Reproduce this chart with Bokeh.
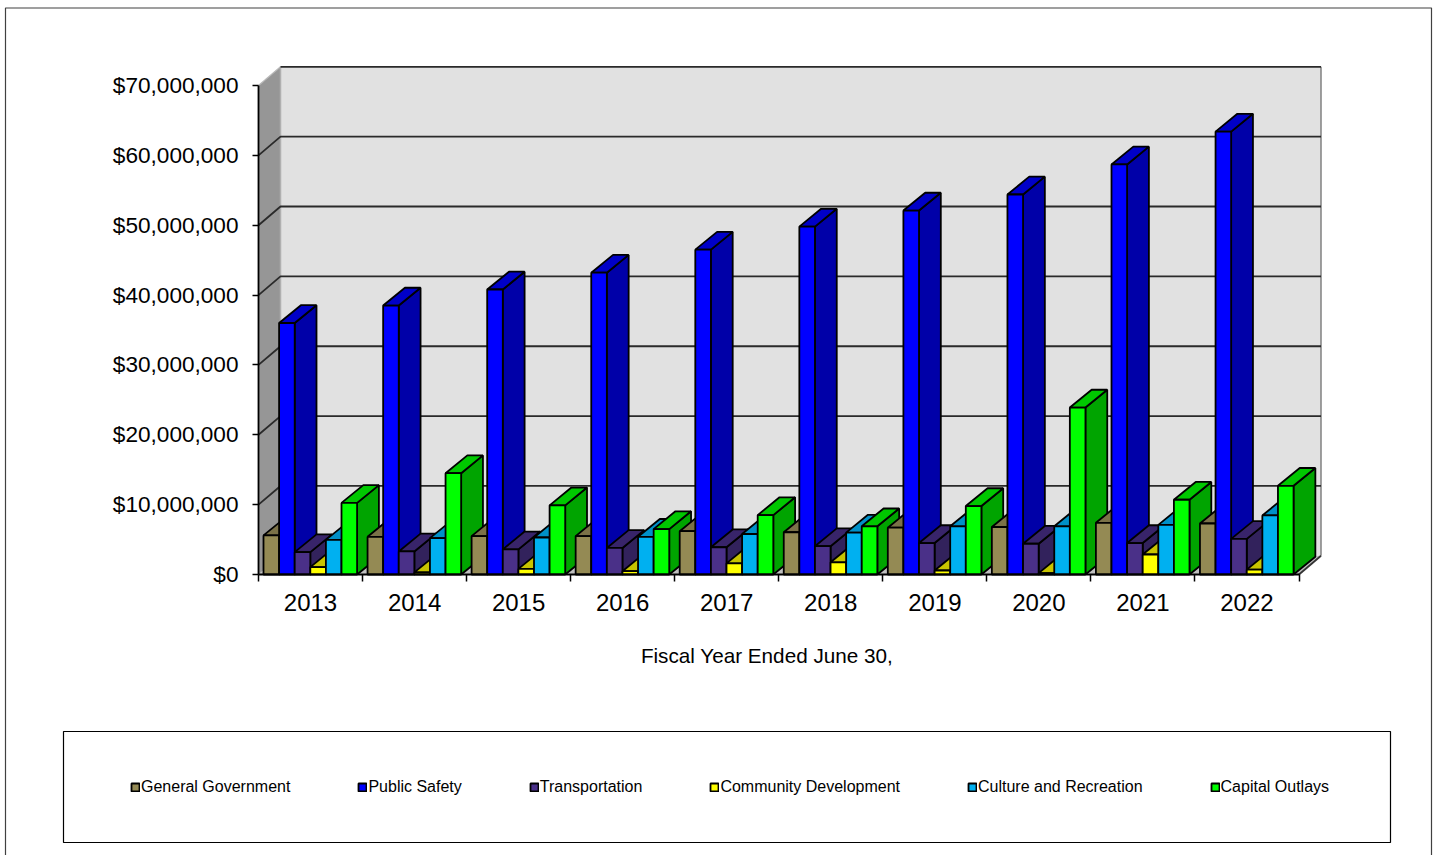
from bokeh.embed import file_html
from bokeh.resources import INLINE
from bokeh.plotting import figure
from bokeh.models import (BoxAnnotation, ColumnDataSource, FixedTicker, Label, Legend,
                          LegendItem, LinearAxis, NumeralTickFormatter, Range1d)

years = ["2013", "2014", "2015", "2016", "2017", "2018", "2019", "2020", "2021", "2022"]
series_names = ["General Government", "Public Safety", "Transportation",
                "Community Development", "Culture and Recreation", "Capital Outlays"]
general_government = [5.6e6, 5.4e6, 5.5e6, 5.5e6, 6.2e6, 6.05e6, 6.7e6, 6.8e6, 7.4e6, 7.3e6]
public_safety = [36.0e6, 38.5e6, 40.8e6, 43.2e6, 46.5e6, 49.8e6, 52.1e6, 54.4e6, 58.7e6, 63.4e6]
transportation = [3.2e6, 3.3e6, 3.6e6, 3.8e6, 3.9e6, 4.05e6, 4.5e6, 4.4e6, 4.5e6, 5.1e6]
community_development = [1.05e6, 0.3e6, 0.8e6, 0.47e6, 1.6e6, 1.75e6, 0.57e6, 0.2e6, 2.86e6, 0.7e6]
culture_recreation = [4.95e6, 5.2e6, 5.3e6, 5.4e6, 5.8e6, 6.0e6, 6.9e6, 6.9e6, 7.1e6, 8.45e6]
capital_outlays = [10.25e6, 14.5e6, 9.9e6, 6.5e6, 8.5e6, 6.9e6, 9.8e6, 23.9e6, 10.7e6, 12.7e6]
y_ticks = [0, 10e6, 20e6, 30e6, 40e6, 50e6, 60e6, 70e6]

all_series = [general_government, public_safety, transportation,
              community_development, culture_recreation, capital_outlays]
front_colors = ["#948a54", "#0000ff", "#4a3088", "#ffff00", "#00b0f0", "#00ff00"]
top_colors = ["#7b7248", "#0000c8", "#38246a", "#c8c400", "#0090c8", "#00c800"]
side_colors = ["#7b7248", "#0000a8", "#32225c", "#c8c400", "#0090c8", "#00a400"]

FONT = "Liberation Sans"
PAGE_W, PAGE_H = 1436, 855
ORIGIN_X, ORIGIN_Y = 258, 574         # where year 0 / $0 falls on the page
SLOT_PX = 104.05                      # width of one fiscal year along the front edge
PX_PER_DOLLAR = 489.0 / 70e6          # $70M spans 489 px

def px_w(n):
    return n / SLOT_PX

def px_h(n):
    return n / PX_PER_DOLLAR

def page_x(n):
    return px_w(n - ORIGIN_X)

def page_y(n):
    return px_h(ORIGIN_Y - n)

WALL_DX, WALL_DY = px_w(22), px_h(18.7)
BAR_DX, BAR_DY = px_w(21.8), px_h(17.8)
BAR_W = px_w(15.6)
BAR_PAD = px_w(5)
N = len(years)

# The frame fills the page so the axes sit at fixed spots inside it
p = figure(width=PAGE_W, height=PAGE_H,
           x_range=Range1d(page_x(0), page_x(PAGE_W)), y_range=Range1d(page_y(PAGE_H), page_y(0)),
           output_backend="svg", toolbar_location=None,
           x_axis_location=None, y_axis_location=None,
           min_border=0, outline_line_color=None,
           background_fill_color="white", border_fill_color="white")
p.grid.visible = False

# Page border: open at the bottom
p.line([page_x(5), page_x(5), page_x(1431), page_x(1431)],
       [page_y(PAGE_H), page_y(7.5), page_y(7.5), page_y(PAGE_H)],
       line_color="#404040", line_width=1.2)

# Box walls of the 3D plot area
top_value = y_ticks[-1] + WALL_DY
p.patch([WALL_DX, N + WALL_DX, N + WALL_DX, WALL_DX], [WALL_DY, WALL_DY, top_value, top_value],
        fill_color="#e1e1e1", line_color=None)
p.patch([0, WALL_DX, WALL_DX, 0], [0, WALL_DY, top_value, y_ticks[-1]],
        fill_color="#969696", line_color=None)
p.patch([0, WALL_DX, N + WALL_DX, N], [0, WALL_DY, WALL_DY, 0],
        fill_color="#c0c0c0", line_color=None)
p.line([WALL_DX, WALL_DX], [WALL_DY, top_value], line_color="#b0b0b0", line_width=1.5)
p.line([N + WALL_DX, N + WALL_DX], [WALL_DY, top_value], line_color="#808080", line_width=1.5)
p.line([0, WALL_DX], [y_ticks[-1], top_value], line_color="#b8b8b8", line_width=1.2)

# Gridlines run along the back wall and fold down the left wall
grid_xs, grid_ys = [], []
for t in y_ticks[1:]:
    if t == y_ticks[-1]:
        grid_xs.append([WALL_DX, N + WALL_DX])
        grid_ys.append([t + WALL_DY, t + WALL_DY])
    else:
        grid_xs.append([0, WALL_DX, N + WALL_DX])
        grid_ys.append([t, t + WALL_DY, t + WALL_DY])
p.multi_line(grid_xs, grid_ys, line_color="#2a2a2a", line_width=1.8)
p.line([N, N + WALL_DX], [0, WALL_DY], line_color="#333333", line_width=1.8)

# Bars are painted from left to right so nearer faces overlap correctly
xs, ys, colors = [], [], []
legend_index = {}
for yi in range(N):
    for si, values in enumerate(all_series):
        v = values[yi]
        x0 = yi + BAR_PAD + si * BAR_W
        x1 = x0 + BAR_W
        xs.append([x1, x1 + BAR_DX, x1 + BAR_DX, x1])
        ys.append([0, BAR_DY, v + BAR_DY, v])
        colors.append(side_colors[si])
        xs.append([x0, x0 + BAR_DX, x1 + BAR_DX, x1])
        ys.append([v, v + BAR_DY, v + BAR_DY, v])
        colors.append(top_colors[si])
        xs.append([x0, x1, x1, x0])
        ys.append([0, 0, v, v])
        colors.append(front_colors[si])
        legend_index.setdefault(si, len(xs) - 1)

faces = p.patches("xs", "ys", fill_color="color", line_color="#000000", line_width=1.8,
                  source=ColumnDataSource(dict(xs=xs, ys=ys, color=colors)))

# Axes
y_axis = LinearAxis(ticker=FixedTicker(ticks=y_ticks), formatter=NumeralTickFormatter(format="$0,0"),
                    fixed_location=0, bounds=(0, y_ticks[-1]), level="annotation",
                    major_tick_out=6, major_tick_in=0, minor_tick_out=0,
                    minor_tick_in=0, axis_line_color="#000000", axis_line_width=1.8,
                    major_tick_line_color="#000000", major_tick_line_width=1.5,
                    major_label_text_font=FONT, major_label_text_font_size="22.6px",
                    major_label_text_color="#000000", major_label_standoff=14)
p.add_layout(y_axis, "left")

centers = [i + 0.5 for i in range(N)]
x_axis = LinearAxis(ticker=FixedTicker(ticks=centers, minor_ticks=list(range(N + 1))),
                    major_label_overrides=dict(zip(centers, years)),
                    fixed_location=0, bounds=(0, N), level="annotation",
                    major_tick_out=0, major_tick_in=0, minor_tick_out=7, minor_tick_in=0,
                    axis_line_color="#000000", axis_line_width=1.8,
                    minor_tick_line_color="#000000", minor_tick_line_width=1.5,
                    major_label_text_font=FONT, major_label_text_font_size="24px",
                    major_label_text_color="#000000", major_label_standoff=12)
p.add_layout(x_axis, "below")

p.add_layout(Label(x=page_x(766.5), y=page_y(655), text="Fiscal Year Ended June 30,",
                   text_font=FONT, text_font_size="20.7px", text_color="#000000",
                   text_align="center", text_baseline="middle"))

# Legend with its own framed box
p.add_layout(BoxAnnotation(left=page_x(63), right=page_x(1390),
                           bottom=page_y(842), top=page_y(731),
                           fill_alpha=0, line_color="#000000", line_alpha=1, line_width=1.2))

legend = Legend(items=[LegendItem(label=name, renderers=[faces], index=legend_index[i])
                       for i, name in enumerate(series_names)],
                orientation="horizontal", location=(130, PAGE_H - 797),
                spacing=67, padding=0, margin=0, border_line_color=None,
                background_fill_alpha=0, glyph_width=10, glyph_height=10, label_standoff=1,
                label_text_font=FONT, label_text_font_size="16px", label_text_color="#000000",
                label_height=20)
p.add_layout(legend)

open("out.html", "w").write(file_html(p, INLINE))
